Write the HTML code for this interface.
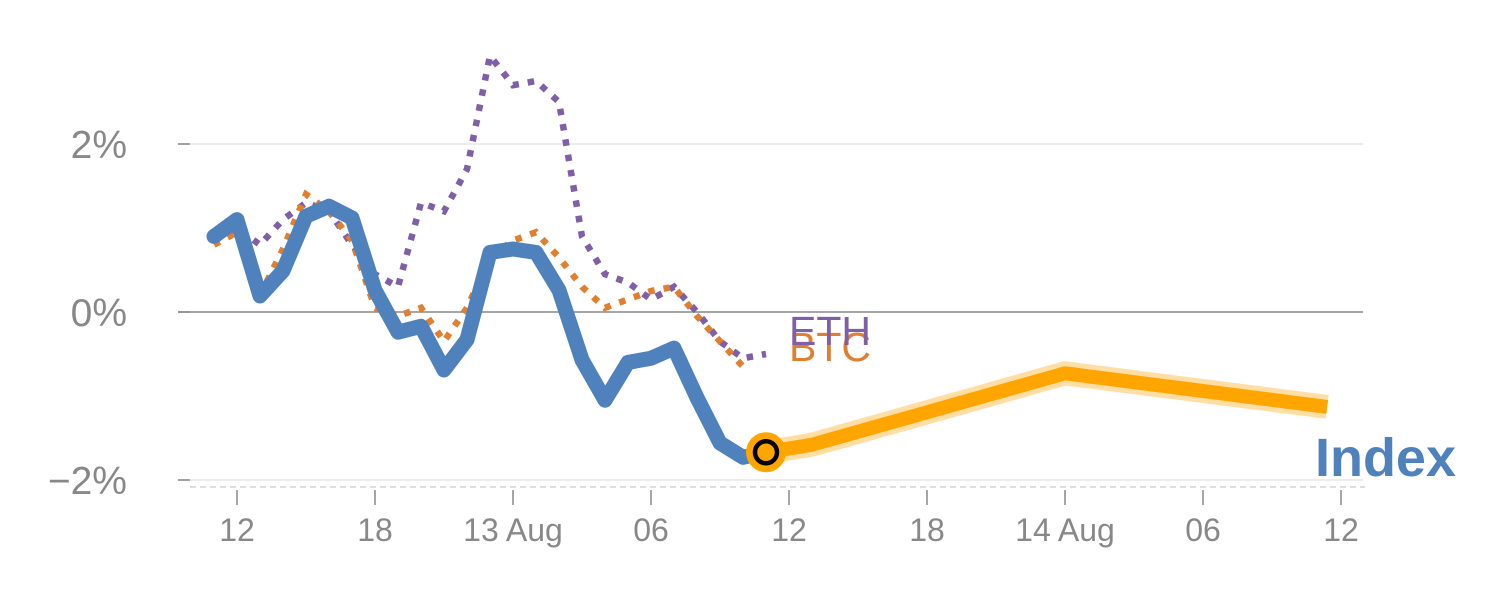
<!DOCTYPE html>
<html><head><meta charset="utf-8"><style>
body{margin:0;background:#fff;}
svg{display:block;font-family:"Liberation Sans",sans-serif;}
</style></head><body>
<svg id="chart" width="1500" height="600" viewBox="0 0 1500 600"></svg>
<script>
const yTicks=[2,0,-2];
const yTickLabels=["2%","0%","\u22122%"];
const xTicks=[12,18,24,30,36,42,48,54,60];
const xTickLabels=["12","18","13 Aug","06","12","18","14 Aug","06","12"];
const histHours=[11,12,13,14,15,16,17,18,19,20,21,22,23,24,25,26,27,28,29,30,31,32,33,34,35];
const indexVals=[0.9,1.1,0.19,0.49,1.14,1.26,1.12,0.26,-0.24,-0.17,-0.69,-0.33,0.71,0.75,0.71,0.26,-0.57,-1.05,-0.6,-0.55,-0.43,-1.02,-1.56,-1.73,-1.67];
const btcHours=[11,12,13,14,15,16,17,18,19,20,21,22,23,24,25,26,27,28,29,30,31,32,33,34];
const btcVals=[0.8,0.95,0.2,0.75,1.4,1.2,0.85,0.05,-0.05,0.05,-0.35,0.05,0.65,0.85,0.95,0.65,0.3,0.05,0.15,0.25,0.3,-0.05,-0.35,-0.65];
const ethHours=[11,12,13,14,15,16,17,18,19,20,21,22,23,24,25,26,27,28,29,30,31,32,33,34,35];
const ethVals=[0.85,1.0,0.8,1.1,1.3,1.2,0.8,0.45,0.3,1.3,1.2,1.7,3.05,2.7,2.75,2.5,0.9,0.45,0.35,0.15,0.3,0.0,-0.35,-0.55,-0.5];
const fcHours=[35,37,48,59.4];
const fcVals=[-1.67,-1.58,-0.73,-1.13];

const NS="http://www.w3.org/2000/svg";
const svg=document.getElementById('chart');
const X=h=>237+(h-12)*23;
const Y=v=>312-v*84;
function mk(tag,attrs,parent){const e=document.createElementNS(NS,tag);for(const k in attrs)e.setAttribute(k,attrs[k]);(parent||svg).appendChild(e);return e;}
function pts(hs,vs){return hs.map((h,i)=>X(h).toFixed(1)+","+Y(vs[i]).toFixed(1)).join(" ");}

yTicks.forEach((t,i)=>{
  const g=mk('line',{x1:178,x2:1363,y1:Y(t),y2:Y(t),stroke:t===0?'#888':'#e6e6e6','stroke-width':1.5});
  
  
  const tk=mk('line',{x1:178,x2:190,y1:Y(t),y2:Y(t),stroke:'#888','stroke-width':1.5});
  
  
  const tx=mk('text',{x:127,y:Y(t)+14,'text-anchor':'end','font-size':39,fill:'#888'});
  tx.textContent=yTickLabels[i];
  
  
});
const base=mk('line',{x1:190,x2:1365,y1:487,y2:487,stroke:'#ddd','stroke-width':2,'stroke-dasharray':'6,4'});


xTicks.forEach((t,i)=>{
  const tk=mk('line',{x1:X(t),x2:X(t),y1:490,y2:505,stroke:'#888','stroke-width':1.5});
  
  
  const tx=mk('text',{x:X(t),y:541,'text-anchor':'middle','font-size':32,fill:'#888'});
  tx.textContent=xTickLabels[i];
  
  
});
const eth=mk('polyline',{points:pts(ethHours,ethVals),fill:'none',stroke:'#7f5fa6','stroke-width':6.5,'stroke-dasharray':'6.5,9'});


const btc=mk('polyline',{points:pts(btcHours,btcVals),fill:'none',stroke:'#e07f30','stroke-width':6.5,'stroke-dasharray':'6.5,9'});


const idx=mk('polyline',{points:pts(histHours,indexVals),fill:'none',stroke:'#4f81bd','stroke-width':15,'stroke-linejoin':'round','stroke-linecap':'round'});


const band=mk('polyline',{points:pts(fcHours,fcVals),fill:'none',stroke:'#ffd690','stroke-width':24,'stroke-linejoin':'round','stroke-opacity':0.8});


const fc=mk('polyline',{points:pts(fcHours,fcVals),fill:'none',stroke:'#ffa500','stroke-width':14,'stroke-linejoin':'round'});


const last=histHours.length-1;
const m1=mk('circle',{cx:X(histHours[last]),cy:Y(indexVals[last]),r:20,fill:'#ffa500'});


const m2=mk('circle',{cx:X(histHours[last]),cy:Y(indexVals[last]),r:11,fill:'#ffa500',stroke:'#000','stroke-width':4.5});


const lb=mk('text',{x:789,y:361,'font-size':41,fill:'#e07f30'});lb.textContent='BTC';


const le=mk('text',{x:789,y:345,'font-size':41,fill:'#7f5fa6'});le.textContent='ETH';


const li=mk('text',{x:1456,y:476,'text-anchor':'end','font-size':54,'font-weight':'bold',fill:'#4f81bd'});li.textContent='Index';


</script>
</body></html>
